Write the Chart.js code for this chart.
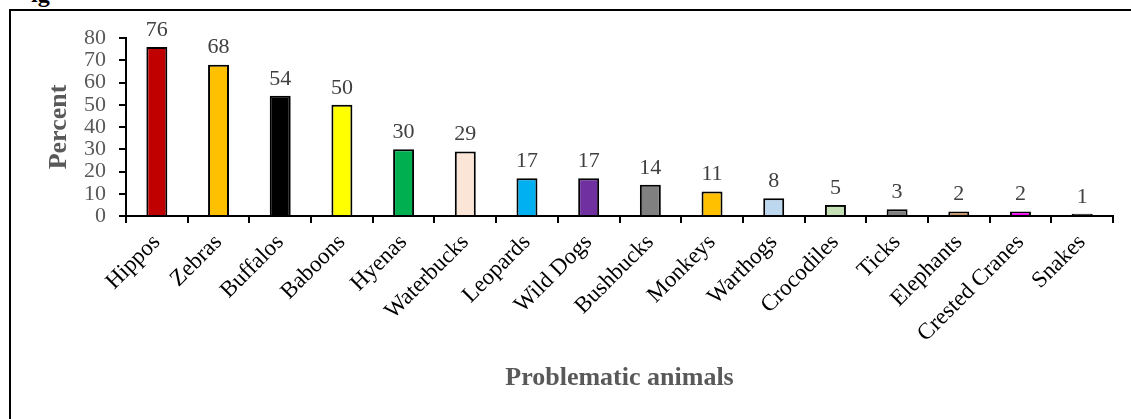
<!DOCTYPE html>
<html>
<head>
<meta charset="utf-8">
<script src="https://cdn.jsdelivr.net/npm/chart.js@4"></script>
<style>
  html, body { margin: 0; padding: 0; background: #fff; }
  #wrap { position: relative; width: 1131px; height: 419px; overflow: hidden; }
  #frame { position: absolute; left: 9px; top: 9px; width: 1200px; height: 500px;
           border-left: 2px solid #000; border-top: 2px solid #000; }
  #fig { position: absolute; left: 31px; top: -19px; font: bold 24px "Liberation Serif", serif; color: #000; }
  #box { position: absolute; left: 0; top: 0; width: 1131px; height: 419px; }
</style>
</head>
<body>
<div id="wrap">
  <div id="frame"></div>
  <div id="fig">ig</div>
  <div id="box"><canvas id="myChart"></canvas></div>
</div>
<script>
const animals = ["Hippos", "Zebras", "Buffalos", "Baboons", "Hyenas", "Waterbucks", "Leopards", "Wild Dogs",
  "Bushbucks", "Monkeys", "Warthogs", "Crocodiles", "Ticks", "Elephants", "Crested Cranes", "Snakes"];
const percent = [76, 68, 54, 50, 30, 29, 17, 17, 14, 11, 8, 5, 3, 2, 2, 1];
const barColors = ["#C00000", "#FFC000", "#000000", "#FFFF00", "#00B050", "#FBE5D6", "#00B0F0", "#7030A0",
  "#808080", "#FFC000", "#BDD7EE", "#C5E0B4", "#7F7F7F", "#C8956A", "#FF00FF", "#1A1A1A"];
const yTicks = [0, 10, 20, 30, 40, 50, 60, 70, 80];

const serif = "'Liberation Serif', 'Times New Roman', serif";

// numbers above the bars
const valueLabels = {
  id: "valueLabels",
  afterDatasetsDraw(chart) {
    const c = chart.ctx;
    const meta = chart.getDatasetMeta(0);
    c.save();
    c.font = "22px " + serif;
    c.fillStyle = "#404040";
    c.textAlign = "center";
    c.textBaseline = "bottom";
    meta.data.forEach((bar, i) => {
      c.fillText(String(percent[i]), bar.x, bar.y - 6);
    });
    c.restore();
  },
};

const ctx = document.getElementById("myChart");

new Chart(ctx, {
  type: "bar",
  data: {
    labels: animals,
    datasets: [
      {
        data: percent,
        backgroundColor: barColors,
        borderColor: "#000",
        borderWidth: 2,
        barPercentage: 0.34,
        categoryPercentage: 1,
      },
    ],
  },
  plugins: [valueLabels],
  options: {
    responsive: true,
    maintainAspectRatio: false,
    animation: false,
    layout: { padding: { top: 38, right: 18, left: 0, bottom: 0 } },
    plugins: {
      legend: { display: false },
      tooltip: { enabled: false },
    },
    scales: {
      x: {
        grid: { display: true, drawOnChartArea: false, drawTicks: true, tickLength: 7, color: "#000", lineWidth: 2, offset: true },
        border: { display: true, color: "#000", width: 2 },
        ticks: { color: "#000", font: { family: serif, size: 23 }, minRotation: 45, maxRotation: 45, padding: 6, autoSkip: false },
        title: { display: true, text: "Problematic animals", color: "#595959",
                 font: { family: serif, size: 26, weight: "bold" }, padding: { top: 0, bottom: 25 } },
        afterFit(s) { s.height = 203; },
      },
      y: {
        min: 0,
        max: 80,
        grid: { display: true, drawOnChartArea: false, drawTicks: true, tickLength: 7, color: "#000", lineWidth: 2 },
        border: { display: true, color: "#000", width: 2 },
        ticks: {
          stepSize: 10,
          autoSkip: false,
          color: "#595959",
          font: { family: serif, size: 22, lineHeight: 1 },
          padding: 13,
          callback: (v) => (yTicks.includes(v) ? v : ""),
        },
        title: { display: true, text: "Percent", color: "#595959",
                 font: { family: serif, size: 26, weight: "bold" }, padding: { top: 44, bottom: 0 } },
        afterFit(s) { s.width = 126; },
      },
    },
  },
});
</script>
</body>
</html>
